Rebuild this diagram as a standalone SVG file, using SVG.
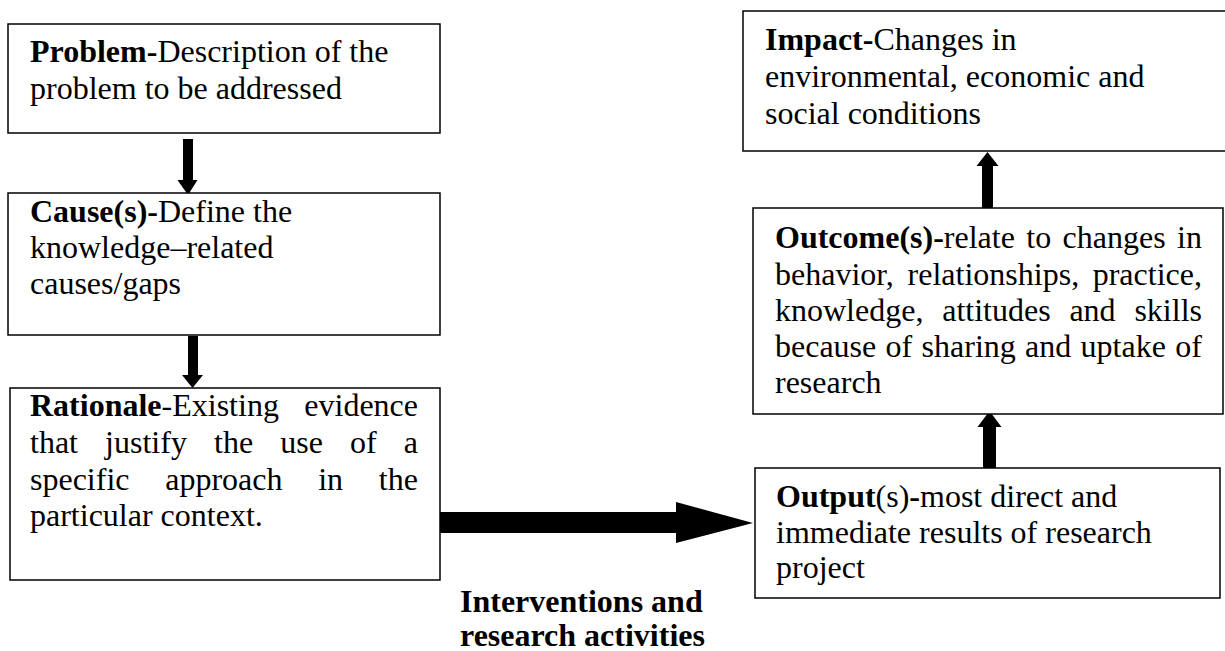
<svg xmlns="http://www.w3.org/2000/svg" width="1225" height="651" viewBox="0 0 1225 651">
<style>
.box{fill:#fff;stroke:#000;stroke-width:1.5}
.t{font-family:"Liberation Serif","Times New Roman",serif;font-size:32px;fill:#000}
.b{font-weight:bold}
.arr{fill:#000;stroke:none}
</style>
<rect width="1225" height="651" fill="#fff"/>
<g id="connectors">
<polygon class="arr" points="183,139 193,139 193,180 197.5,180 188,195 177.5,180 183,180"/>
<polygon class="arr" points="188,336 198,336 198,375 203,375 192.5,388 182,375 188,375"/>
<polygon class="arr" points="437,512 676,512 676,502 753,523 676,543 676,533 437,533"/>
<polygon class="arr" points="983,468 996,468 996,427 1001.5,427 989.5,411 977.5,427 983,427"/>
<polygon class="arr" points="982,208 993,208 993,166 998.5,166 987.5,152 976.5,166 982,166"/>
</g>
<g id="problem">
<rect class="box" x="8" y="24" width="432" height="109"/>
<text class="t" x="30" y="62"><tspan class="b">Problem-</tspan>Description of the</text>
<text class="t" x="30" y="99">problem to be addressed</text>
</g>
<g id="cause">
<rect class="box" x="8" y="193" width="432" height="142"/>
<text class="t" x="30" y="222"><tspan class="b">Cause(s)-</tspan>Define the</text>
<text class="t" x="30" y="258">knowledge–related</text>
<text class="t" x="30" y="294">causes/gaps</text>
</g>
<g id="rationale">
<rect class="box" x="10" y="388" width="430" height="192"/>
<text class="t" x="30" y="416"><tspan class="b">Rationale</tspan>-Existing</text>
<text class="t" x="418" y="416" text-anchor="end">evidence</text>
<text class="t" y="453"><tspan x="30">that</tspan><tspan x="105.1">justify</tspan><tspan x="214">the</tspan><tspan x="280.2">use</tspan><tspan x="350">of</tspan><tspan x="403.8">a</tspan></text>
<text class="t" y="490"><tspan x="30">specific</tspan><tspan x="165.2">approach</tspan><tspan x="318.2">in</tspan><tspan x="378.8">the</tspan></text>
<text class="t" x="30" y="526">particular context.</text>
</g>
<g id="intervention-label">
<text class="t b" x="460" y="612">Interventions and</text>
<text class="t b" x="460" y="646">research activities</text>
</g>
<g id="output">
<rect class="box" x="755" y="468" width="465" height="130"/>
<text class="t" x="776" y="507"><tspan class="b">Output</tspan>(s)<tspan class="b">-</tspan>most direct and</text>
<text class="t" x="776" y="543">immediate results of research</text>
<text class="t" x="776" y="578">project</text>
</g>
<g id="outcome">
<rect class="box" x="753" y="208" width="470" height="206"/>
<text class="t" y="248"><tspan x="775"><tspan class="b">Outcome(s)-</tspan>relate</tspan><tspan x="1026.3">to</tspan><tspan x="1062.6">changes</tspan><tspan x="1177.1">in</tspan></text>
<text class="t" y="285"><tspan x="775">behavior,</tspan><tspan x="907.6">relationships,</tspan><tspan x="1092.7">practice,</tspan></text>
<text class="t" y="321"><tspan x="775">knowledge,</tspan><tspan x="942.2">attitudes</tspan><tspan x="1069.4">and</tspan><tspan x="1134.4">skills</tspan></text>
<text class="t" y="357"><tspan x="775">because</tspan><tspan x="885.6">of</tspan><tspan x="921.6">sharing</tspan><tspan x="1025.1">and</tspan><tspan x="1080.6">uptake</tspan><tspan x="1175.2">of</tspan></text>
<text class="t" x="775" y="393">research</text>
</g>
<g id="impact">
<rect class="box" x="743" y="11" width="490" height="140"/>
<text class="t" x="765" y="50"><tspan class="b">Impact-</tspan>Changes in</text>
<text class="t" x="765" y="87">environmental, economic and</text>
<text class="t" x="765" y="124">social conditions</text>
</g>
</svg>
